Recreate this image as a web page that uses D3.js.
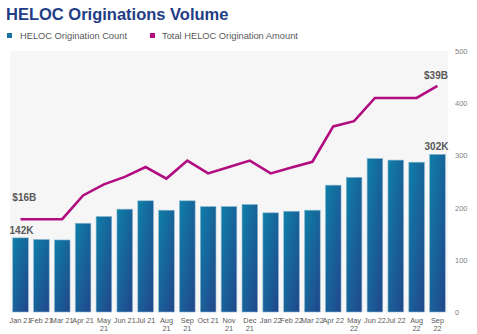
<!DOCTYPE html>
<html>
<head>
<meta charset="utf-8">
<script src="https://cdn.jsdelivr.net/npm/d3@7"></script>
<style>
  html, body { margin: 0; padding: 0; background: #fff; }
  svg { display: block; font-family: "Liberation Sans", Arial, sans-serif; }
</style>
</head>
<body>
<svg id="chart" width="477" height="334"></svg>
<script>
// Monthly HELOC originations, Jan 2021 – Sep 2022
const months = ["Jan 21","Feb 21","Mar 21","Apr 21","May 21","Jun 21","Jul 21","Aug 21","Sep 21","Oct 21","Nov 21","Dec 21",
                "Jan 22","Feb 22","Mar 22","Apr 22","May 22","Jun 22","Jul 22","Aug 22","Sep 22"];
// month labels that break onto two lines under the axis
const wrappedMonths = ["May 21","Aug 21","Sep 21","Nov 21","Dec 21","May 22","Aug 22","Sep 22"];
// origination count, thousands
const countK = [142,139,138,170,183,197,213,195,213,202,202,206,190,193,195,243,258,294,291,287,302];
// total origination amount, $ billions
const amountB = [16.0,16.0,16.0,20.1,22.0,23.3,25.0,23.0,26.1,23.9,25.0,26.1,23.9,24.9,25.9,32.0,32.9,36.9,36.9,36.9,39.0];
const countTicks = [0,100,200,300,400,500];
const seriesNames = ["HELOC Origination Count","Total HELOC Origination Amount"];

const svg = d3.select("#chart");
const plot = {left: 10, right: 448, top: 51, bottom: 312};
const textGray = "#595959";
const lineColor = "#b10c80";

const x = d3.scaleBand().domain(months).range([plot.left, plot.right]).paddingInner(0.25).paddingOuter(0.13);
const yCount = d3.scaleLinear().domain([0, 500]).range([plot.bottom, plot.top]);
const yAmount = d3.scaleLinear().domain([0, 45]).range([plot.bottom, plot.top]);

// bar fill
const defs = svg.append("defs");
const grad = defs.append("linearGradient").attr("id", "barFill")
  .attr("x1", 0).attr("y1", 0).attr("x2", 1).attr("y2", 1);
grad.append("stop").attr("offset", "0%").attr("stop-color", "#0e7fa8");
grad.append("stop").attr("offset", "100%").attr("stop-color", "#22468b");

// title
svg.append("text").attr("x", 6).attr("y", 20)
  .attr("font-size", 16.5).attr("font-weight", "bold").attr("fill", "#1f3d85")
  .text("HELOC Originations Volume");

// legend
const legend = svg.append("g").attr("transform", "translate(7,36)");
legend.append("rect").attr("x", 0).attr("y", -3).attr("width", 5).attr("height", 5).attr("fill", "#17719c");
legend.append("text").attr("x", 13).attr("y", 3.3).attr("font-size", 9.3).attr("fill", textGray).text(seriesNames[0]);
legend.append("rect").attr("x", 143).attr("y", -3).attr("width", 5).attr("height", 5).attr("fill", lineColor);
legend.append("text").attr("x", 155).attr("y", 3.3).attr("font-size", 9.3).attr("fill", textGray).text(seriesNames[1]);

// plot background
svg.append("rect").attr("x", plot.left).attr("y", plot.top)
  .attr("width", plot.right - plot.left).attr("height", plot.bottom - plot.top)
  .attr("fill", "#f6f6f6");

// right axis (count, thousands)
const yAxis = svg.append("g").attr("transform", `translate(${plot.right + 2},0)`)
  .call(d3.axisRight(yCount).tickValues(countTicks).tickSize(0).tickPadding(5));
yAxis.select(".domain").remove();
yAxis.selectAll("text").attr("font-size", 7.5).attr("fill", "#808080")
  .attr("font-family", "Liberation Sans, Arial, sans-serif");

// bars
svg.append("g").selectAll("rect").data(countK).join("rect")
  .attr("x", (d, i) => x(months[i]))
  .attr("y", d => yCount(d))
  .attr("width", x.bandwidth())
  .attr("height", d => yCount(0) - yCount(d))
  .attr("fill", "url(#barFill)")
  .attr("stroke", "#8db8d2").attr("stroke-width", 0.6);

// amount line
const line = d3.line()
  .x((d, i) => x(months[i]) + x.bandwidth() / 2)
  .y(d => yAmount(d));
svg.append("path").datum(amountB)
  .attr("d", line).attr("fill", "none")
  .attr("stroke", lineColor).attr("stroke-width", 2.6).attr("stroke-linejoin", "miter");

// bottom axis labels
const xAxis = svg.append("g").attr("transform", `translate(0,${plot.bottom})`)
  .call(d3.axisBottom(x).tickSize(0).tickPadding(0).tickFormat(""));
xAxis.select(".domain").remove();
xAxis.selectAll(".tick").each(function(m) {
  const t = d3.select(this).append("text")
    .attr("font-size", 7.3).attr("fill", textGray).attr("text-anchor", "middle")
    .attr("font-family", "Liberation Sans, Arial, sans-serif");
  const lines = wrappedMonths.includes(m) ? m.split(" ") : [m];
  lines.forEach((s, k) => t.append("tspan").attr("x", 0).attr("y", 10.6 + k * 8.5).text(s));
});

// value callouts at first and last month
const last = months.length - 1;
const callout = (txt, cx, cy) => svg.append("text").attr("x", cx).attr("y", cy)
  .attr("text-anchor", "middle").attr("font-size", 10).attr("font-weight", "bold")
  .attr("fill", textGray).text(txt);
const cx = i => x(months[i]) + x.bandwidth() / 2;
callout("$" + Math.round(amountB[0]) + "B", cx(0) + 3.8, yAmount(amountB[0]) - 18);
callout("$" + Math.round(amountB[last]) + "B", cx(last) - 1.5, yAmount(amountB[last]) - 7);
callout(countK[0] + "K", cx(0) + 1, yCount(countK[0]) - 4);
callout(countK[last] + "K", cx(last) - 1, yCount(countK[last]) - 4);
</script>
</body>
</html>
